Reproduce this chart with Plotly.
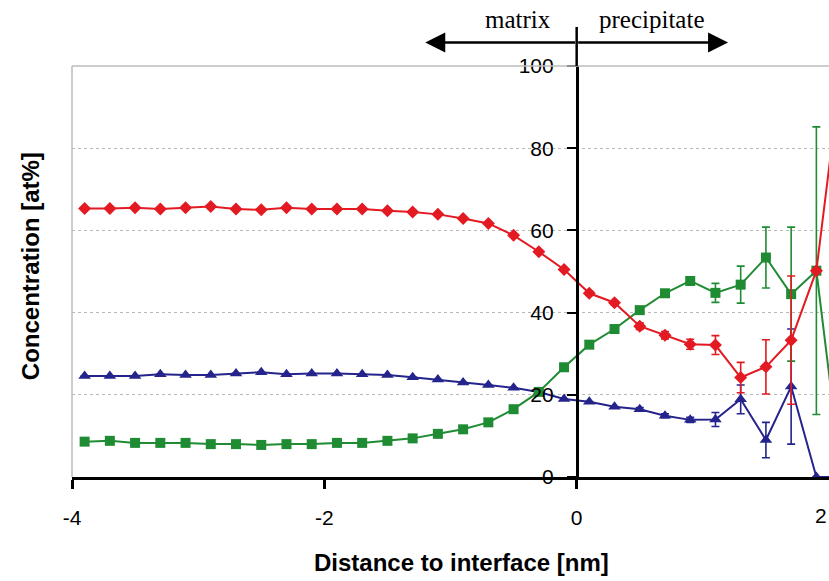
import plotly.graph_objects as go

# Distance to interface [nm]
distance = [-3.9, -3.7, -3.5, -3.3, -3.1, -2.9, -2.7, -2.5, -2.3, -2.1,
            -1.9, -1.7, -1.5, -1.3, -1.1, -0.9, -0.7, -0.5, -0.3, -0.1,
            0.1, 0.3, 0.5, 0.7, 0.9, 1.1, 1.3, 1.5, 1.7, 1.9, 2.1]

red_vals = [65.3, 65.3, 65.5, 65.2, 65.5, 65.8, 65.2, 65.0, 65.5, 65.2,
            65.2, 65.2, 64.8, 64.5, 63.9, 62.9, 61.7, 58.8, 54.8, 50.5,
            44.7, 42.4, 36.7, 34.5, 32.3, 32.1, 24.2, 26.8, 33.3, 50.2, 100.0]
red_err = [None] * 20 + [0.5, 0.5, 0.8, 0.9, 1.2, 2.3, 3.7, 6.6, 15.6, None, None]

green_vals = [8.6, 8.8, 8.3, 8.3, 8.3, 8.0, 8.0, 7.8, 8.0, 8.0,
              8.3, 8.3, 8.8, 9.4, 10.5, 11.6, 13.3, 16.5, 20.7, 26.7,
              32.2, 36.0, 40.6, 44.7, 47.7, 44.8, 46.8, 53.4, 44.5, 50.2, 0.0]
green_err = [None] * 20 + [None, None, 0.5, 0.6, 1.0, 2.3, 4.5, 7.4, 16.3, 35.0, None]

blue_vals = [24.6, 24.6, 24.6, 25.0, 24.8, 24.8, 25.2, 25.5, 25.0, 25.2,
             25.2, 25.0, 24.8, 24.3, 23.7, 23.0, 22.4, 21.7, 20.7, 19.0,
             18.3, 17.1, 16.5, 14.9, 13.9, 14.0, 18.9, 9.0, 22.0, 0.0, 0.0]
blue_err = [None] * 20 + [None, None, 0.4, 0.5, 0.6, 1.7, 3.5, 4.3, 14.0, None, None]

x_ticks = [-4, -2, 0, 2]
y_ticks = [0, 20, 40, 60, 80, 100]

RED = "#e31a22"
GREEN = "#1f8c34"
BLUE = "#24248c"

fig = go.Figure()

def add_series(vals, err, color, symbol, size):
    fig.add_trace(go.Scatter(
        x=distance, y=vals, mode="lines+markers",
        line=dict(color=color, width=2),
        marker=dict(symbol=symbol, size=size, color=color),
        error_y=dict(type="data", array=err, visible=True, color=color,
                     thickness=1.6, width=4),
        showlegend=False,
    ))

add_series(blue_vals, blue_err, BLUE, "triangle-up", 11)
add_series(green_vals, green_err, GREEN, "square", 10)
add_series(red_vals, red_err, RED, "diamond", 10)

axis_font = dict(family="Arial, Liberation Sans, sans-serif", size=21, color="black")

fig.update_layout(
    width=829, height=581,
    margin=dict(l=72, r=0, t=66, b=104),
    paper_bgcolor="white", plot_bgcolor="white",
    xaxis=dict(range=[-4, 2], tickvals=x_ticks[:-1], ticktext=[str(v) for v in x_ticks[:-1]],
               showline=True, linecolor="black", linewidth=3,
               ticks="outside", ticklen=9, tickwidth=2.5, tickcolor="black",
               ticklabelstandoff=11,
               showgrid=False, zeroline=False, tickfont=axis_font),
    yaxis=dict(range=[0, 100], tickvals=y_ticks, anchor="free", position=4 / 6,
               showline=True, linecolor="black", linewidth=2.5,
               ticks="outside", ticklen=9, tickwidth=2, tickcolor="black",
               ticklabelstandoff=9,
               showgrid=True, gridcolor="#b8b8b8", griddash="dot", gridwidth=1.2,
               zeroline=False, tickfont=axis_font),
)

# plot borders (grey left/top)
fig.add_shape(type="line", xref="paper", yref="paper", x0=0, x1=0, y0=0, y1=1,
              line=dict(color="#bdbdbd", width=1.5))
fig.add_shape(type="line", xref="paper", yref="paper", x0=0, x1=1, y0=1, y1=1,
              line=dict(color="#bdbdbd", width=1.5))
# vertical interface line extension above the plot
fig.add_shape(type="line", xref="x", yref="paper", x0=0, x1=0, y0=1, y1=1.095,
              line=dict(color="black", width=2.5))

# double arrow matrix / precipitate
for xe in (-1.2, 1.2):
    fig.add_annotation(x=xe, y=1.057, xref="x", yref="paper",
                       ax=0, ay=0, axref="x", ayref="pixel",
                       text="", showarrow=True, arrowhead=2, arrowsize=1.6,
                       arrowwidth=2.5, arrowcolor="black", standoff=0, startstandoff=0)

serif = dict(family="Liberation Serif, Times New Roman, serif", size=25, color="black")
fig.add_annotation(x=-0.468, y=1.112, xref="x", yref="paper", text="matrix",
                   showarrow=False, font=serif, xanchor="center", yanchor="middle")
fig.add_annotation(x=0.595, y=1.112, xref="x", yref="paper", text="precipitate",
                   showarrow=False, font=serif, xanchor="center", yanchor="middle")

# last x tick label sits at the right page edge (as in the reference)
fig.add_annotation(x=2, y=-0.093, xref="x", yref="paper", text=str(x_ticks[-1]),
                   showarrow=False, font=axis_font, xanchor="right", yanchor="middle")

title_font = dict(family="Arial, Liberation Sans, sans-serif", size=24, color="black")
fig.add_annotation(x=0.515, y=-0.209, xref="paper", yref="paper",
                   text="<b>Distance to interface [nm]</b>", showarrow=False,
                   font=title_font, xanchor="center", yanchor="middle")
fig.add_annotation(x=-0.0555, y=0.513, xref="paper", yref="paper",
                   text="<b>Concentration [at%]</b>", showarrow=False, textangle=-90,
                   font=title_font, xanchor="center", yanchor="middle")

fig.write_html("out.html")
